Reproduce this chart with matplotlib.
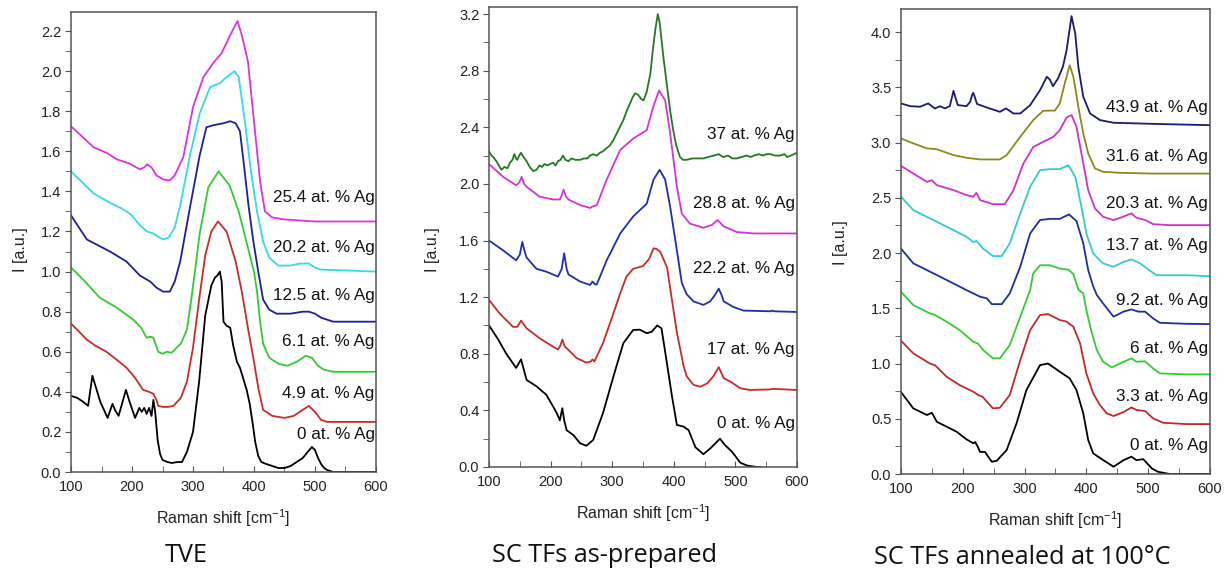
import matplotlib
matplotlib.use("Agg")
import matplotlib.pyplot as plt
from matplotlib.ticker import MultipleLocator

plt.rcParams['font.family'] = ['Liberation Sans', 'DejaVu Sans']
plt.rcParams['mathtext.fontset'] = 'custom'
plt.rcParams['mathtext.rm'] = 'Liberation Sans'
plt.rcParams['mathtext.it'] = 'Liberation Sans:italic'

# ---------------- Panel 1: TVE ----------------
tve_x_0 = [100,110,120,128,135,140,148,160,168,172,178,190,195,205,212,216,220,224,228,232,235,238,242,246,250,258,265,275,282,290,300,310,320,330,336,340,344,347,350,355,361,366,372,377,383,388,393,398,402,407,412,420,430,440,450,460,470,480,488,495,500,505,510,515,520,530,560,590,600]
tve_y_0 = [0.38,0.37,0.35,0.33,0.48,0.43,0.35,0.27,0.34,0.31,0.28,0.41,0.36,0.27,0.32,0.30,0.32,0.29,0.32,0.28,0.36,0.30,0.16,0.09,0.06,0.05,0.045,0.05,0.05,0.10,0.20,0.45,0.78,0.93,0.97,0.98,1.0,0.95,0.75,0.73,0.72,0.63,0.55,0.52,0.46,0.41,0.34,0.24,0.15,0.08,0.05,0.04,0.03,0.02,0.02,0.03,0.05,0.07,0.10,0.125,0.11,0.07,0.04,0.02,0.01,0.0,0.0,0.0,0.0]
tve_x_49 = [100,110,126,140,158,175,191,205,218,228,235,240,243,250,260,268,280,290,300,310,320,330,341,355,370,380,390,400,407,415,430,450,465,480,490,500,510,520,600]
tve_y_49 = [0.74,0.71,0.66,0.63,0.60,0.56,0.52,0.47,0.41,0.40,0.39,0.36,0.33,0.325,0.325,0.33,0.37,0.45,0.62,0.86,1.08,1.20,1.25,1.20,1.05,0.90,0.72,0.55,0.42,0.31,0.28,0.27,0.28,0.31,0.33,0.30,0.26,0.25,0.25]
tve_x_61 = [100,120,147,175,202,215,224,230,235,243,250,257,265,273,280,290,298,311,325,342,360,375,390,400,405,410,415,425,440,455,470,485,495,505,515,530,600]
tve_y_61 = [1.02,0.96,0.87,0.82,0.76,0.72,0.67,0.675,0.67,0.60,0.59,0.60,0.595,0.62,0.64,0.71,0.88,1.19,1.42,1.50,1.43,1.30,1.12,1.0,0.90,0.75,0.64,0.57,0.54,0.53,0.55,0.58,0.57,0.53,0.51,0.50,0.50]
tve_x_125 = [100,126,164,191,213,230,240,251,262,270,279,295,311,322,333,350,361,370,377,384,391,399,407,415,425,437,460,480,490,500,510,530,600]
tve_y_125 = [1.28,1.16,1.10,1.05,0.98,0.95,0.92,0.90,0.90,0.95,1.05,1.32,1.58,1.72,1.73,1.74,1.75,1.74,1.70,1.52,1.33,1.15,1.0,0.86,0.81,0.79,0.79,0.80,0.80,0.79,0.77,0.75,0.75]
tve_x_202 = [100,137,160,186,200,213,225,235,245,251,260,270,279,295,311,328,344,355,368,375,385,395,405,415,425,440,460,475,490,500,510,600]
tve_y_202 = [1.50,1.39,1.35,1.31,1.28,1.23,1.20,1.19,1.17,1.16,1.17,1.22,1.33,1.58,1.79,1.92,1.94,1.97,2.00,1.97,1.75,1.50,1.30,1.15,1.07,1.03,1.03,1.04,1.04,1.02,1.01,1.00]
tve_x_254 = [100,137,160,175,195,213,220,225,232,240,251,262,270,284,300,317,333,347,361,373,380,390,400,410,418,430,450,500,600]
tve_y_254 = [1.725,1.62,1.59,1.56,1.54,1.51,1.52,1.535,1.52,1.48,1.46,1.455,1.48,1.57,1.82,1.97,2.04,2.09,2.18,2.25,2.18,2.05,1.75,1.45,1.30,1.27,1.26,1.25,1.25]
tve_labels = ["0 at. % Ag", "4.9 at. % Ag", "6.1 at. % Ag", "12.5 at. % Ag", "20.2 at. % Ag", "25.4 at. % Ag"]
tve_label_y = [0.185, 0.39, 0.65, 0.88, 1.12, 1.37]

# ---------------- Panel 2: SC TFs as-prepared ----------------
asp_x_0 = [100,115,128,144,152,161,177,193,205,210,215,219,222,226,237,248,258,269,285,302,318,334,345,356,364,373,380,388,397,405,416,424,435,448,459,475,483,494,508,519,535,540]
asp_y_0 = [1.0,0.90,0.80,0.70,0.76,0.615,0.57,0.51,0.42,0.38,0.33,0.415,0.33,0.26,0.225,0.167,0.15,0.19,0.38,0.64,0.874,0.968,0.97,0.945,0.955,1.0,0.98,0.756,0.50,0.297,0.285,0.26,0.14,0.09,0.13,0.20,0.155,0.11,0.03,0.01,0.0,0.0]
asp_x_17 = [100,117,139,146,152,161,182,204,212,216,219,223,226,242,258,265,268,271,285,302,313,323,334,350,360,367,372,378,389,397,405,416,421,432,443,454,464,473,481,492,508,524,557,560,600]
asp_y_17 = [1.18,1.086,0.99,0.99,1.034,0.98,0.91,0.85,0.83,0.86,0.90,0.85,0.84,0.77,0.737,0.745,0.76,0.745,0.874,1.086,1.227,1.345,1.40,1.42,1.47,1.545,1.54,1.52,1.41,1.18,0.95,0.71,0.64,0.58,0.567,0.59,0.64,0.705,0.627,0.603,0.556,0.544,0.548,0.552,0.544]
asp_x_222 = [100,123,144,150,154,158,161,177,193,212,218,222,226,229,248,264,268,272,275,291,313,334,356,367,377,386,394,405,413,421,432,448,459,466,473,478,481,497,513,557,560,563,600]
asp_y_222 = [1.60,1.53,1.46,1.50,1.59,1.52,1.48,1.40,1.38,1.345,1.40,1.51,1.40,1.36,1.31,1.286,1.31,1.29,1.29,1.46,1.65,1.77,1.86,2.03,2.10,2.03,1.84,1.53,1.30,1.22,1.17,1.145,1.17,1.21,1.26,1.21,1.17,1.13,1.105,1.10,1.105,1.10,1.095]
asp_x_288 = [100,123,144,149,153,157,161,182,204,215,218,221,225,229,248,264,268,275,291,313,334,356,367,376,386,394,405,413,426,448,462,471,481,502,530,600]
asp_y_288 = [2.14,2.05,1.99,2.01,2.05,2.0,1.98,1.91,1.89,1.89,1.92,1.96,1.91,1.89,1.85,1.83,1.84,1.85,2.03,2.24,2.32,2.38,2.55,2.66,2.59,2.36,1.98,1.79,1.72,1.69,1.71,1.745,1.70,1.66,1.65,1.65]
asp_x_37 = [100,104,107,112,116,120,125,130,134,138,141,144,146,149,152,156,161,166,172,177,182,186,190,195,199,204,208,212,216,220,224,229,234,240,248,254,260,264,269,275,280,285,290,296,302,310,318,324,329,333,337,342,347,351,356,362,366,370,374,377,379,383,389,394,399,404,410,415,421,430,440,448,456,465,473,480,488,495,502,510,518,525,530,538,545,550,557,565,572,580,584,590,595,600]
asp_y_37 = [2.23,2.20,2.19,2.16,2.13,2.10,2.12,2.11,2.15,2.17,2.21,2.18,2.17,2.20,2.22,2.19,2.16,2.12,2.09,2.10,2.13,2.12,2.14,2.13,2.14,2.15,2.13,2.16,2.17,2.20,2.17,2.16,2.18,2.17,2.17,2.18,2.18,2.20,2.21,2.20,2.22,2.23,2.25,2.27,2.31,2.38,2.45,2.52,2.57,2.61,2.64,2.63,2.60,2.59,2.65,2.78,2.95,3.09,3.20,3.14,3.06,2.90,2.69,2.52,2.38,2.27,2.19,2.17,2.17,2.18,2.18,2.18,2.19,2.20,2.21,2.19,2.20,2.18,2.18,2.19,2.20,2.19,2.20,2.21,2.20,2.21,2.21,2.20,2.20,2.21,2.19,2.20,2.21,2.22]
asp_labels = ["0 at. % Ag", "17 at. % Ag", "22.2 at. % Ag", "28.8 at. % Ag", "37 at. % Ag"]
asp_label_y = [0.31, 0.83, 1.40, 1.86, 2.35]

# ---------------- Panel 3: SC TFs annealed at 100°C ----------------
ann_x_0 = [100,120,142,150,158,174,190,206,217,220,224,228,236,242,247,255,271,287,303,325,338,357,373,384,395,403,411,427,444,460,473,481,492,506,516,535,600]
ann_y_0 = [0.742,0.594,0.534,0.555,0.473,0.428,0.383,0.314,0.278,0.29,0.25,0.20,0.20,0.15,0.111,0.12,0.217,0.459,0.76,0.986,1.0,0.926,0.866,0.76,0.549,0.308,0.187,0.127,0.066,0.125,0.157,0.125,0.135,0.05,0.02,0.0,0.0]
ann_x_33 = [100,120,147,155,174,195,217,225,232,239,249,260,276,293,309,325,338,357,368,379,390,400,411,422,433,444,460,473,481,495,508,524,562,600]
ann_y_33 = [1.207,1.092,1.0,0.985,0.88,0.805,0.745,0.715,0.70,0.655,0.594,0.60,0.715,1.03,1.303,1.439,1.448,1.394,1.38,1.333,1.18,0.911,0.73,0.624,0.549,0.525,0.56,0.603,0.58,0.57,0.504,0.464,0.452,0.452]
ann_x_6 = [100,120,147,155,174,195,217,225,233,249,260,276,293,309,314,325,341,357,371,379,387,395,400,409,417,427,441,454,473,481,495,508,519,562,600]
ann_y_6 = [1.65,1.529,1.454,1.44,1.378,1.303,1.197,1.18,1.122,1.047,1.047,1.167,1.424,1.665,1.816,1.89,1.89,1.86,1.85,1.81,1.67,1.635,1.484,1.273,1.122,1.017,0.966,1.0,1.047,1.017,1.02,0.956,0.911,0.902,0.902]
ann_x_92 = [100,120,142,174,206,228,239,247,263,276,293,309,325,341,357,372,384,395,403,411,417,427,444,460,473,484,495,508,519,562,600]
ann_y_92 = [2.04,1.907,1.846,1.756,1.665,1.605,1.59,1.538,1.538,1.635,1.876,2.178,2.299,2.31,2.31,2.35,2.29,2.088,1.846,1.70,1.62,1.545,1.424,1.47,1.49,1.47,1.47,1.409,1.369,1.36,1.357]
ann_x_137 = [100,120,152,185,206,217,222,233,249,263,276,293,309,325,341,357,371,382,392,400,411,427,444,460,473,487,503,514,562,600]
ann_y_137 = [2.51,2.389,2.30,2.208,2.148,2.10,2.11,2.04,1.973,1.973,2.088,2.36,2.60,2.751,2.76,2.76,2.796,2.69,2.42,2.178,1.997,1.907,1.876,1.92,1.943,1.907,1.84,1.80,1.80,1.79]
ann_x_203 = [100,120,142,150,158,185,206,217,222,228,249,268,282,298,314,330,346,357,368,376,384,395,403,414,427,444,460,473,481,495,508,535,600]
ann_y_203 = [2.79,2.72,2.645,2.66,2.615,2.57,2.525,2.51,2.545,2.48,2.443,2.443,2.57,2.81,2.96,3.007,3.05,3.113,3.228,3.249,3.143,2.81,2.57,2.404,2.329,2.299,2.33,2.36,2.32,2.30,2.262,2.253,2.253]
ann_x_316 = [100,120,142,158,185,206,228,260,271,293,314,330,341,349,357,365,373,379,387,395,403,414,427,454,508,600]
ann_y_316 = [3.038,2.993,2.948,2.94,2.887,2.863,2.848,2.848,2.887,3.053,3.204,3.288,3.29,3.29,3.355,3.536,3.701,3.596,3.324,3.083,2.902,2.766,2.736,2.727,2.72,2.72]
ann_x_439 = [100,115,131,144,155,163,171,179,182,185,188,192,206,212,215,217,219,223,239,260,270,282,293,309,325,336,341,346,354,362,368,376,382,387,395,406,422,444,508,600]
ann_y_439 = [3.355,3.33,3.325,3.355,3.309,3.33,3.31,3.33,3.40,3.469,3.41,3.34,3.33,3.37,3.43,3.451,3.42,3.35,3.318,3.279,3.31,3.264,3.264,3.339,3.475,3.596,3.57,3.511,3.58,3.686,3.837,4.145,3.988,3.686,3.415,3.264,3.204,3.18,3.17,3.158]
ann_labels = ["0 at. % Ag", "3.3 at. % Ag", "6 at. % Ag", "9.2 at. % Ag", "13.7 at. % Ag", "20.3 at. % Ag", "31.6 at. % Ag", "43.9 at. % Ag"]
ann_label_y = [0.262, 0.706, 1.137, 1.568, 2.07, 2.45, 2.87, 3.318]

captions = ["TVE", "SC TFs as-prepared", "SC TFs annealed at 100°C"]

# ---------------- drawing ----------------
fig = plt.figure(figsize=(12.29, 5.72), dpi=100)

spine_c = '#555555'

def setup(ax, ymax, ymaj, ymin):
    ax.set_xlim(100, 600)
    ax.set_ylim(0, ymax)
    ax.xaxis.set_major_locator(MultipleLocator(100))
    ax.xaxis.set_minor_locator(MultipleLocator(50))
    ax.yaxis.set_major_locator(MultipleLocator(ymaj))
    ax.yaxis.set_minor_locator(MultipleLocator(ymin))
    ax.yaxis.set_major_formatter(matplotlib.ticker.FormatStrFormatter('%.1f'))
    for s in ax.spines.values():
        s.set_color(spine_c)
        s.set_linewidth(1.1)
    ax.tick_params(axis='x', which='both', direction='in', length=4, color=spine_c,
                   labelsize=10.5, labelcolor='#222222', pad=6)
    ax.tick_params(axis='y', which='both', direction='out', length=4, color=spine_c,
                   labelsize=10.5, labelcolor='#222222', pad=3)

lw = 1.3
lab_fs = 12.3

# Panel 1
ax1 = fig.add_axes([0.0578, 0.1748, 0.2481, 0.8042])
setup(ax1, 2.295, 0.2, 0.1)
p1 = [(tve_x_0, tve_y_0, '#000000'), (tve_x_49, tve_y_49, '#cc2a2a'),
      (tve_x_61, tve_y_61, '#33cc33'), (tve_x_125, tve_y_125, '#1f1f99'),
      (tve_x_202, tve_y_202, '#33dddd'), (tve_x_254, tve_y_254, '#dd33dd')]
for x, y, c in p1:
    ax1.plot(x, y, color=c, lw=lw)
for t, yy in zip(tve_labels, tve_label_y):
    ax1.text(598, yy, t, ha='right', va='center', fontsize=lab_fs, color='#111111')

# Panel 2
ax2 = fig.add_axes([0.3979, 0.1836, 0.2506, 0.8042])
setup(ax2, 3.25, 0.4, 0.2)
p2 = [(asp_x_0, asp_y_0, '#000000'), (asp_x_17, asp_y_17, '#cc2a2a'),
      (asp_x_222, asp_y_222, '#1f2faa'), (asp_x_288, asp_y_288, '#d633d6'),
      (asp_x_37, asp_y_37, '#227a22')]
for x, y, c in p2:
    ax2.plot(x, y, color=c, lw=lw)
for t, yy in zip(asp_labels, asp_label_y):
    ax2.text(596, yy, t, ha='right', va='center', fontsize=lab_fs, color='#111111')

# Panel 3
ax3 = fig.add_axes([0.7331, 0.1713, 0.2514, 0.8130])
setup(ax3, 4.21, 0.5, 0.25)
p3 = [(ann_x_0, ann_y_0, '#000000'), (ann_x_33, ann_y_33, '#c02a2a'),
      (ann_x_6, ann_y_6, '#33cc33'), (ann_x_92, ann_y_92, '#1f2f99'),
      (ann_x_137, ann_y_137, '#33cccc'), (ann_x_203, ann_y_203, '#cc33cc'),
      (ann_x_316, ann_y_316, '#8a8a1e'), (ann_x_439, ann_y_439, '#1a1a70')]
for x, y, c in p3:
    ax3.plot(x, y, color=c, lw=lw)
for t, yy in zip(ann_labels, ann_label_y):
    ax3.text(597, yy, t, ha='right', va='center', fontsize=lab_fs, color='#111111')

W, H = 1229, 572
def ftext(px, py, s, **kw):
    fig.text(px / W, 1 - py / H, s, **kw)

xl = r'Raman shift [cm$^{-1}$]'
ftext(223, 518, xl, ha='center', va='center', fontsize=11.5, color='#222222')
ftext(643, 513, xl, ha='center', va='center', fontsize=11.5, color='#222222')
ftext(1055, 520, xl, ha='center', va='center', fontsize=11.5, color='#222222')

ftext(20, 250, 'I [a.u.]', ha='center', va='center', rotation=90, fontsize=11.5, color='#222222')
ftext(433, 250, 'I [a.u.]', ha='center', va='center', rotation=90, fontsize=11.5, color='#222222')
ftext(841, 243, 'I [a.u.]', ha='center', va='center', rotation=90, fontsize=11.5, color='#222222')

cap_kw = dict(ha='center', va='center', fontsize=18.2, family=['Open Sans', 'DejaVu Sans'], color='#111111')
ftext(186, 556, captions[0], **cap_kw)
ftext(604, 555, captions[1], **cap_kw)
ftext(1022, 557, captions[2], **cap_kw)

fig.savefig('out.png', dpi=100)
